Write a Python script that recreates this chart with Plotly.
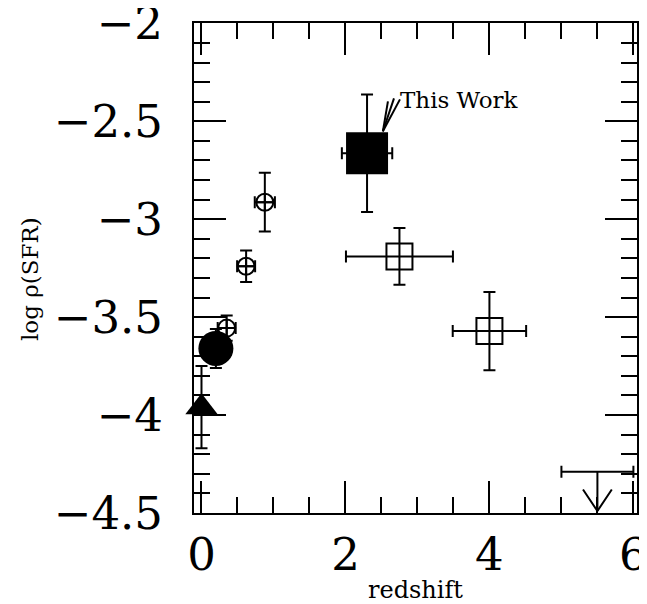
import plotly.graph_objects as go

# ---- data ----
tri_x = [0.0]
tri_y = [-3.96]
tri_yerr = [0.21]

dot_x = [0.2]
dot_y = [-3.66]
dot_yerr = [0.10]

cc_x = [0.35, 0.62, 0.88]
cc_y = [-3.556, -3.24, -2.913]
cc_xerr = [0.125, 0.125, 0.14]
cc_yerr = [0.065, 0.08, 0.15]

this_x = [2.30]
this_y = [-2.663]
this_xerr = [0.35]
this_yerr = [0.30]

osq_x = [2.75, 4.0]
osq_y = [-3.19, -3.571]
osq_xerr = [0.743, 0.51]
osq_yerr = [0.145, 0.20]

lim_x = [5.5]
lim_y = [-4.29]
lim_xerr = [0.5]
arrow_len = 0.20
head_w = 0.20
head_h = 0.11

label_text = "This Work"
label_pos = (2.73, -2.39)
pointer_start = (2.52, -2.551)
pointer_ends = [(2.59, -2.398), (2.674, -2.383), (2.757, -2.388)]

x_tickvals = [0, 2, 4, 6]
y_tickvals = [-4.5, -4.0, -3.5, -3.0, -2.5, -2.0]
y_ticktext = ["\u22124.5", "\u22124", "\u22123.5", "\u22123", "\u22122.5", "\u22122"]

BLACK = "black"
fig = go.Figure()

def ebar(arr):
    return dict(type="data", array=arr, color=BLACK, thickness=2, width=6, visible=True)

fig.add_trace(go.Scatter(x=tri_x, y=tri_y, mode="markers",
                         error_y=ebar(tri_yerr),
                         marker=dict(symbol="triangle-up", size=28, color=BLACK, line=dict(width=0)),
                         cliponaxis=False))
fig.add_trace(go.Scatter(x=dot_x, y=dot_y, mode="markers",
                         error_y=ebar(dot_yerr),
                         marker=dict(symbol="circle", size=35, color=BLACK, line=dict(width=0))))
fig.add_trace(go.Scatter(x=cc_x, y=cc_y, mode="markers",
                         error_x=ebar(cc_xerr), error_y=ebar(cc_yerr),
                         marker=dict(symbol="circle-cross-open", size=17, color=BLACK, line=dict(width=2, color=BLACK))))
fig.add_trace(go.Scatter(x=this_x, y=this_y, mode="markers",
                         error_x=ebar(this_xerr), error_y=ebar(this_yerr),
                         marker=dict(symbol="square", size=42, color=BLACK, line=dict(width=0))))
fig.add_trace(go.Scatter(x=osq_x, y=osq_y, mode="markers",
                         error_x=ebar(osq_xerr), error_y=ebar(osq_yerr),
                         marker=dict(symbol="square-open", size=26, color=BLACK, line=dict(width=2, color=BLACK))))
fig.add_trace(go.Scatter(x=lim_x, y=lim_y, mode="markers",
                         error_x=ebar(lim_xerr),
                         marker=dict(size=1, color="rgba(0,0,0,0)"), cliponaxis=False))
# upper-limit arrow
for lx, ly in zip(lim_x, lim_y):
    tip = ly - arrow_len
    fig.add_trace(go.Scatter(x=[lx, lx, None, lx - head_w, lx, lx + head_w],
                             y=[ly, tip, None, tip + head_h, tip, tip + head_h],
                             mode="lines", line=dict(color=BLACK, width=2), cliponaxis=False))

# pointer lines for label
for ex, ey in pointer_ends:
    fig.add_shape(type="line", x0=pointer_start[0], y0=pointer_start[1], x1=ex, y1=ey,
                  xref="x", yref="y", line=dict(color=BLACK, width=2))

fig.add_annotation(x=label_pos[0], y=label_pos[1], xref="x", yref="y", text=label_text,
                   showarrow=False, xanchor="left", yanchor="middle",
                   font=dict(family="DejaVu Serif", size=23, color=BLACK))

# axis titles
fig.add_annotation(x=0.499, y=-0.190, xref="paper", yref="paper", text="redshift",
                   showarrow=False, xanchor="center", yanchor="bottom",
                   font=dict(family="DejaVu Serif", size=24, color=BLACK))
fig.add_annotation(x=-0.370, y=0.4776, xref="paper", yref="paper", text="log ρ(SFR)",
                   showarrow=False, xanchor="center", yanchor="middle", textangle=-90,
                   font=dict(family="DejaVu Serif", size=23, color=BLACK))

axis_common = dict(showline=True, linewidth=2, linecolor=BLACK, mirror="allticks",
                   ticks="inside", ticklen=32, tickwidth=2, tickcolor=BLACK,
                   showgrid=False, zeroline=False, automargin=False,
                   ticklabeloverflow="allow",
                   tickfont=dict(family="DejaVu Serif", size=45, color=BLACK))

# page body has an 8px default margin, so the figure is 8px smaller
fig.update_layout(
    width=639, height=596,
    margin=dict(l=186, r=10, t=15, b=91, autoexpand=False),
    paper_bgcolor="white", plot_bgcolor="white",
    showlegend=False,
    xaxis=dict(range=[-0.104, 6.05], tickmode="array", tickvals=x_tickvals,
               minor=dict(tickmode="linear", dtick=0.5, tick0=0, ticks="inside", ticklen=16, tickwidth=2, tickcolor=BLACK),
               ticklabelstandoff=1, **axis_common),
    yaxis=dict(range=[-4.5, -1.998], tickmode="array", tickvals=y_tickvals, ticktext=y_ticktext,
               minor=dict(tickmode="linear", dtick=0.1, tick0=-4.5, ticks="inside", ticklen=16, tickwidth=2, tickcolor=BLACK),
               ticklabelstandoff=20, **axis_common),
)

fig.write_html("out.html")
